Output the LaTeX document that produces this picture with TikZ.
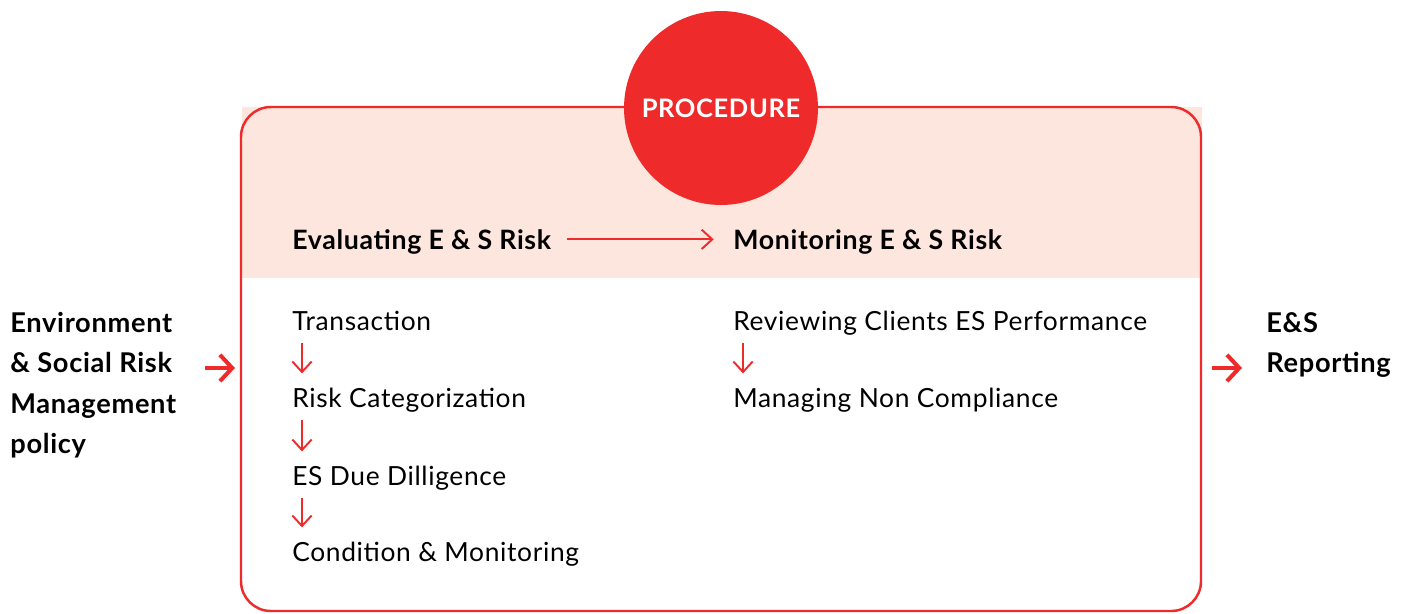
\documentclass[tikz,border=0pt]{standalone}
\usepackage{fontspec}
\setmainfont{Lato}[LetterSpace=2.5]
\usetikzlibrary{arrows.meta, positioning}
\definecolor{pred}{HTML}{EE2A2A}
\definecolor{ppeach}{HTML}{FDE6DD}

\tikzset{
  steptext/.style={font=\fontsize{15}{18}\selectfont, anchor=base west, inner sep=0pt, text height=11pt, text depth=0pt},
  headtext/.style={steptext, font=\fontsize{15.2}{18}\selectfont\bfseries},
  sidetext/.style={font=\fontsize{15.5}{23}\selectfont\bfseries, align=left, anchor=west, inner sep=0pt},
  thinarrow/.style={pred, line width=1.1pt, -{Straight Barb[length=6pt, width=11pt]}},
  bigarrow/.style={pred, line width=2.3pt, -{Straight Barb[length=7pt, width=15pt]}}
}

\begin{document}
\begin{tikzpicture}[x=0.02cm, y=-0.02cm]
\useasboundingbox (0,0) rectangle (1410,613);
% frame with the shaded header band
\fill[ppeach] (242,107) rectangle (1202,278);
\draw[pred, line width=1.4pt, rounded corners=17pt] (241,107) rectangle (1201,611);
\node[circle, fill=pred, minimum size=3.88cm, inner sep=0pt, text=white,
  font=\fontsize{14.5}{18}\selectfont\bfseries] (proc) at (721,108) {PROCEDURE};

% column heads
\node[headtext] (evalhead) at (292,249) {Evaluating E \& S Risk};
\node[headtext] (monhead) at (733,249) {Monitoring E \& S Risk};
\draw[thinarrow, shorten <=9pt, shorten >=11pt] (evalhead.east) -- (monhead.west);

% evaluating steps
\node[steptext] (trans) at (292,330) {Transaction};
\node[steptext] (riskcat) at (292,407) {Risk Categorization};
\node[steptext] (duedil) at (292,485) {ES Due Dilligence};
\node[steptext] (condmon) at (292,561) {Condition \& Monitoring};
\foreach \a/\b in {trans/riskcat, riskcat/duedil, duedil/condmon}
  \draw[thinarrow, shorten <=7.4pt, shorten >=7.9pt]
    ([xshift=5.7pt]\a.south west) -- ([xshift=5.7pt]\b.north west);

% monitoring steps
\node[steptext] (review) at (733,330) {Reviewing Clients ES Performance};
\node[steptext] (noncomp) at (733,407) {Managing Non Compliance};
\draw[thinarrow, shorten <=7.4pt, shorten >=7.9pt]
  ([xshift=5.7pt]review.south west) -- ([xshift=5.7pt]noncomp.north west);

% input and output
\node[sidetext] (policy) at (10,385) {Environment\\\& Social Risk\\Management\\policy};
\node[sidetext] (report) at (1266,345) {E\&S\\Reporting};
\coordinate (inA) at (205,368);
\coordinate (inB) at (235,368);
\coordinate (outA) at (1212,368);
\coordinate (outB) at (1242,368);
\draw[bigarrow] (inA) -- (inB);
\draw[bigarrow] (outA) -- (outB);
\end{tikzpicture}
\end{document}
